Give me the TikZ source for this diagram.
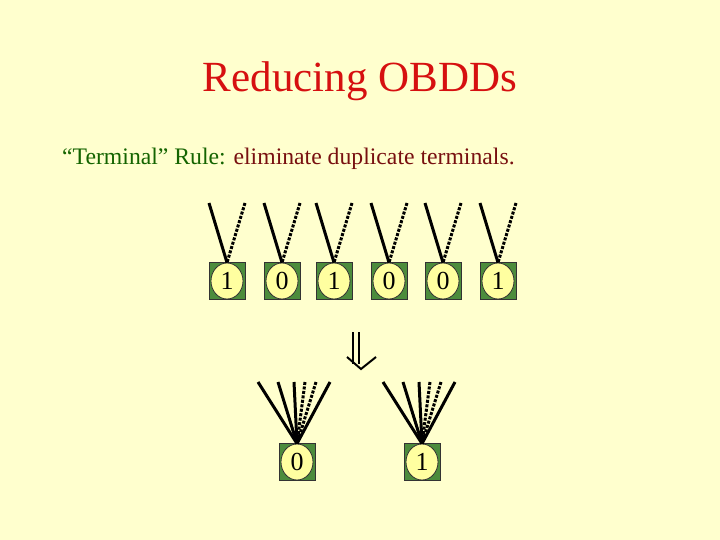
\documentclass[tikz,border=0pt]{standalone}
\usepackage{fontspec}
\setmainfont{Liberation Serif}
\usetikzlibrary{shapes.geometric}
\definecolor{bg}{RGB}{255,255,206}
\definecolor{titlered}{RGB}{214,16,16}
\definecolor{dkgreen}{RGB}{20,100,0}
\definecolor{dkred}{RGB}{120,16,16}
\definecolor{boxgreen}{RGB}{76,140,60}
\definecolor{circfill}{RGB}{255,255,160}
\tikzset{
  termbox/.style={rectangle, minimum width=36pt, minimum height=37pt, inner sep=0pt,
    fill=boxgreen, draw=black!80, line width=0.8pt},
  term/.style={ellipse, minimum width=32pt, minimum height=36pt, inner sep=0pt,
    fill=circfill, draw=black!80, line width=0.8pt,
    font=\fontsize{26}{26}\selectfont},
  hi/.style={line width=3pt, black},
  lo/.style={line width=3pt, black, dash pattern=on 3pt off 1.5pt},
}
\begin{document}
\begin{tikzpicture}[x=1pt,y=-1pt]
\fill[bg] (0,0) rectangle (720,540);
\useasboundingbox (0,0) rectangle (720,540);
\node[anchor=base, text=titlered, font=\fontsize{43}{43}\selectfont, inner sep=0pt] (title) at (360,92) {Reducing OBDDs};
\node[anchor=base west, font=\fontsize{23.7}{24}\selectfont, inner sep=0pt] (sub) at (62,165)
  {\textcolor{dkgreen}{“Terminal” Rule:} \textcolor{dkred}{eliminate duplicate terminals.}};
% top terminals
\foreach \i/\x/\v in {1/227/1,2/282/0,3/334/1,4/389/0,5/443/0,6/498/1}{
  \node[termbox] (tb\i) at (\x,281) {};
  \node[term] (t\i) at (tb\i.center) {\v};
  \coordinate (h\i) at (\x-18,203);
  \coordinate (l\i) at (\x+18,203);
  \draw[hi] (h\i) -- (t\i.north);
  \draw[lo] (l\i) -- (t\i.north);
}
% arrow
\coordinate (a1) at (353,332);
\coordinate (a2) at (359,332);
\coordinate (a3) at (353,364);
\coordinate (a4) at (359,364);
\draw[line width=2pt] (a1) -- (a3) (a2) -- (a4);
\draw[line width=2pt, line join=miter] (347,357) -- (361,369) -- (376,357);
% bottom terminals
\node[termbox] (bb0) at (297,462) {};
\node[term] (b0) at (bb0.center) {0};
\node[termbox] (bb1) at (422,462) {};
\node[term] (b1) at (bb1.center) {1};
\foreach \n/\x in {b0/297,b1/422}{
  \foreach \dx in {-39,-19,-3,33}{
    \draw[hi] (\x+\dx,382) -- (\n.north);
  }
  \foreach \dx in {8,19}{
    \draw[lo] (\x+\dx,382) -- (\n.north);
  }
}
\end{tikzpicture}
\end{document}
